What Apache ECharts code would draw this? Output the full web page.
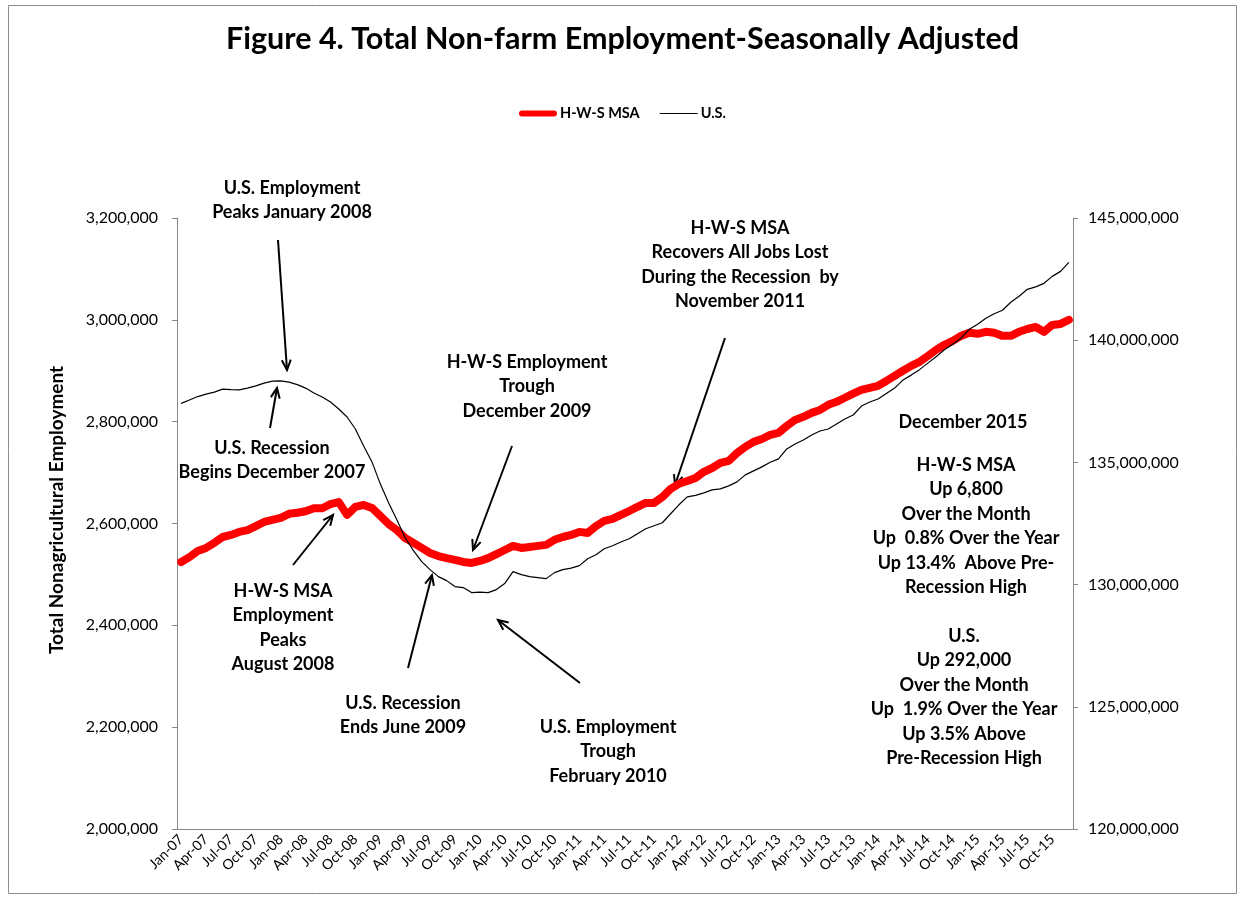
<!DOCTYPE html>
<html>
<head>
<meta charset="utf-8">
<script src="https://cdn.jsdelivr.net/npm/echarts@6/dist/echarts.min.js"></script>
<style>
  html, body { margin: 0; padding: 0; background: #fff; }
  #eCharts { width: 1245px; height: 898px; }
</style>
</head>
<body>
<div id="eCharts"></div>
<script>
// 月份标签 Jan-07 ... Dec-15
var monthNames = ['Jan', 'Feb', 'Mar', 'Apr', 'May', 'Jun', 'Jul', 'Aug', 'Sep', 'Oct', 'Nov', 'Dec'];
var years = ['07', '08', '09', '10', '11', '12', '13', '14', '15'];
var categories = [];
for (var y = 0; y < years.length; y++) {
    for (var m = 0; m < monthNames.length; m++) {
        categories.push(monthNames[m] + '-' + years[y]);
    }
}

// H-W-S MSA (left axis)
var hwsData = [
    2524500, 2534000, 2546000, 2552000, 2562000, 2573500, 2577500, 2583500, 2587000, 2595000, 2603000, 2607000,
    2611000, 2619000, 2621000, 2624000, 2630000, 2630000, 2638000, 2642000, 2617000, 2632500, 2636500, 2630500,
    2615000, 2599000, 2587000, 2571500, 2562000, 2552000, 2542000, 2536000, 2532000, 2528500, 2524500, 2522500,
    2526500, 2532000, 2540000, 2548000, 2556000, 2552000, 2554000, 2556000, 2558000, 2568000, 2573500, 2577500,
    2583500, 2581500, 2595000, 2605000, 2609000, 2617000, 2624500, 2632500, 2640500, 2640500, 2652000, 2668000,
    2678000, 2683500, 2689500, 2701500, 2709000, 2719000, 2723000, 2738500, 2750500, 2760300, 2766000, 2774000,
    2778000, 2791700, 2803500, 2809500, 2817300, 2823000, 2833000, 2839000, 2847000, 2855000, 2862500, 2866500,
    2870500, 2880000, 2890000, 2900000, 2909500, 2917500, 2929000, 2941000, 2951000, 2958700, 2968500, 2974500,
    2972500, 2976500, 2974500, 2968500, 2968500, 2976500, 2982000, 2986000, 2976500, 2990000, 2992000, 3000000
];

// U.S. (right axis)
var usData = [
    137416000, 137551000, 137694000, 137796000, 137877000, 138000000, 137979000, 137971000, 138041000, 138134000, 138245000, 138326000,
    138339000, 138286000, 138184000, 138041000, 137837000, 137673000, 137469000, 137184000, 136857000, 136367000, 135673000, 135020000,
    134122000, 133347000, 132653000, 131918000, 131388000, 130939000, 130612000, 130326000, 130163000, 129918000, 129877000, 129673000,
    129694000, 129673000, 129796000, 130041000, 130531000, 130408000, 130326000, 130286000, 130245000, 130490000, 130612000, 130673000,
    130775000, 131061000, 131224000, 131469000, 131592000, 131743000, 131877000, 132082000, 132286000, 132408000, 132531000, 132898000,
    133265000, 133592000, 133653000, 133755000, 133877000, 133918000, 134041000, 134204000, 134490000, 134653000, 134816000, 135008000,
    135143000, 135551000, 135755000, 135918000, 136122000, 136286000, 136367000, 136571000, 136775000, 136939000, 137306000, 137469000,
    137592000, 137816000, 138041000, 138367000, 138571000, 138796000, 139061000, 139326000, 139612000, 139837000, 140082000, 140449000,
    140653000, 140898000, 141082000, 141224000, 141551000, 141796000, 142082000, 142184000, 142327000, 142612000, 142816000, 143184000
];

var leftTicks = [2000000, 3200000, 200000];
var rightTicks = [120000000, 145000000, 5000000];

var myChart = echarts.init(document.getElementById('eCharts'));
var FONT = 'Lato';

function addCommas(v) {
    return String(v).replace(/\B(?=(\d{3})+(?!\d))/g, ',');
}

// 注释文字
function note(x, y, text) {
    return {
        type: 'text', x: x, y: y,
        style: {
            text: text, fill: '#000', font: 'bold 18px ' + FONT,
            align: 'center', verticalAlign: 'top', lineHeight: 24.4
        },
        z: 10
    };
}

// 箭头: (x1,y1) -> (x2,y2)，箭头在终点
function arrow(x1, y1, x2, y2) {
    var ang = Math.atan2(y2 - y1, x2 - x1);
    var len = 11, spread = 0.42;
    var p1 = [x2 - len * Math.cos(ang - spread), y2 - len * Math.sin(ang - spread)];
    var p2 = [x2 - len * Math.cos(ang + spread), y2 - len * Math.sin(ang + spread)];
    return {
        type: 'group', z: 10,
        children: [
            { type: 'line', shape: { x1: x1, y1: y1, x2: x2, y2: y2 }, style: { stroke: '#000', lineWidth: 2 } },
            { type: 'polyline', shape: { points: [p1, [x2, y2], p2] }, style: { stroke: '#000', lineWidth: 2, fill: null } }
        ]
    };
}

var option = {
    backgroundColor: '#fff',
    animation: false,
    textStyle: { fontFamily: FONT },
    title: {
        text: 'Figure 4. Total Non-farm Employment-Seasonally Adjusted',
        left: 'center',
        top: 19,
        textStyle: { fontSize: 30.5, fontWeight: 'bold', color: '#000', fontFamily: FONT }
    },
    legend: {
        top: 101,
        left: 'center',
        itemWidth: 38,
        itemHeight: 6,
        itemGap: 20,
        textStyle: { fontSize: 14.5, fontWeight: 'bold', color: '#000', fontFamily: FONT, padding: [0, 0, 0, -2] },
        data: [
            { name: 'H-W-S MSA', icon: 'path://M3,0 L35,0 A3,3 0 0 1 35,6 L3,6 A3,3 0 0 1 3,0 Z' },
            { name: 'U.S.', icon: 'path://M0,0 L38,0 L38,1.2 L0,1.2 Z' }
        ]
    },
    grid: {
        left: 177,
        right: 172,
        top: 218,
        bottom: 69
    },
    xAxis: {
        type: 'category',
        data: categories,
        boundaryGap: true,
        axisLine: { lineStyle: { color: '#868686', width: 1 } },
        axisTick: { show: false },
        axisLabel: {
            interval: 2,
            rotate: 45,
            fontSize: 14,
            color: '#000',
            margin: 8,
            fontFamily: FONT
        },
        splitLine: { show: false }
    },
    yAxis: [
        {
            type: 'value',
            position: 'left',
            min: leftTicks[0],
            max: leftTicks[1],
            interval: leftTicks[2],
            axisLine: { show: true, lineStyle: { color: '#868686' } },
            axisTick: { show: true, length: 5, lineStyle: { color: '#868686' } },
            axisLabel: {
                fontSize: 16, color: '#000', margin: 19, fontFamily: FONT,
                formatter: function (v) { return addCommas(v); }
            },
            splitLine: { show: false }
        },
        {
            type: 'value',
            position: 'right',
            min: rightTicks[0],
            max: rightTicks[1],
            interval: rightTicks[2],
            axisLine: { show: true, lineStyle: { color: '#868686' } },
            axisTick: { show: true, length: 5, lineStyle: { color: '#868686' } },
            axisLabel: {
                fontSize: 16, color: '#000', margin: 15, fontFamily: FONT,
                formatter: function (v) { return addCommas(v); }
            },
            splitLine: { show: false }
        }
    ],
    series: [
        {
            name: 'H-W-S MSA',
            type: 'line',
            yAxisIndex: 0,
            data: hwsData,
            showSymbol: false,
            symbol: 'none',
            itemStyle: { color: '#ff0000' },
            lineStyle: { color: '#ff0000', width: 8, cap: 'round', join: 'round' },
            z: 3
        },
        {
            name: 'U.S.',
            type: 'line',
            yAxisIndex: 1,
            data: usData,
            showSymbol: false,
            symbol: 'none',
            itemStyle: { color: '#000' },
            lineStyle: { color: '#000', width: 1.2 },
            z: 4
        }
    ],
    graphic: [
        {
            type: 'rect',
            shape: { x: 8.5, y: 5.5, width: 1228, height: 888 },
            style: { stroke: '#8c8c8c', lineWidth: 1, fill: null },
            silent: true
        },
        {
            type: 'text', x: 57, y: 510, rotation: Math.PI / 2,
            style: {
                text: 'Total Nonagricultural Employment', fill: '#000',
                font: 'bold 19px ' + FONT, align: 'center', verticalAlign: 'middle'
            }
        },
        note(292, 176, 'U.S. Employment\nPeaks January 2008'),
        arrow(278, 240, 287, 370),
        note(272, 436, 'U.S. Recession\nBegins December 2007'),
        arrow(270, 428, 277, 388),
        note(283, 579, 'H-W-S MSA\nEmployment\nPeaks\nAugust 2008'),
        arrow(293, 565, 333, 515),
        note(527, 350, 'H-W-S Employment\nTrough\nDecember 2009'),
        arrow(512, 446, 473, 550),
        note(403, 691, 'U.S. Recession\nEnds June 2009'),
        arrow(408, 668, 432, 575),
        note(608, 715, 'U.S. Employment\nTrough\nFebruary 2010'),
        arrow(580, 683, 498, 620),
        note(740, 216, 'H-W-S MSA\nRecovers All Jobs Lost\nDuring the Recession  by\nNovember 2011'),
        arrow(725, 338, 675, 485),
        note(963, 410, 'December 2015'),
        note(966, 453, 'H-W-S MSA\nUp 6,800\nOver the Month\nUp  0.8% Over the Year\nUp 13.4%  Above Pre-\nRecession High'),
        note(964, 624, 'U.S.\nUp 292,000\nOver the Month\nUp  1.9% Over the Year\nUp 3.5% Above\nPre-Recession High')
    ]
};

myChart.setOption(option);
</script>
</body>
</html>
